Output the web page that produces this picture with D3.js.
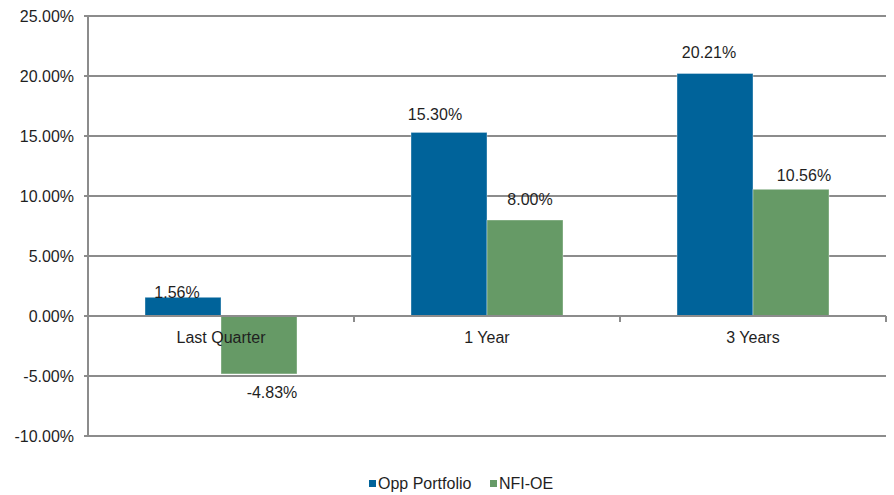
<!DOCTYPE html>
<html>
<head>
<meta charset="utf-8">
<script src="https://cdn.jsdelivr.net/npm/d3@7"></script>
<style>
  html, body { margin: 0; padding: 0; background: #fff; }
  svg { display: block; font-family: "Liberation Sans", Arial, sans-serif; }
</style>
</head>
<body>
<svg id="chart" width="894" height="495"></svg>
<script>
// Return periods and the two series (as fractions)
const categories = ["Last Quarter", "1 Year", "3 Years"];
const seriesNames = ["Opp Portfolio", "NFI-OE"];
const oppPortfolio = [0.0156, 0.1530, 0.2021];
const nfiOe = [-0.0483, 0.0800, 0.1056];
const yTicks = [-0.10, -0.05, 0, 0.05, 0.10, 0.15, 0.20, 0.25];

// Hand placement of the value labels: [dx, dy] relative to the bar end
const oppLabelNudge = [[-6, 1], [-14, -12], [-6, -15]];
const nfiLabelNudge = [[13, 24], [5, -15], [13, -8]];

const colors = ["#00639A", "#669A66"];
const gridColor = "#8c8c8c";
const textColor = "#1f1f1f";
const fontSize = 16;

const svg = d3.select("#chart");
const plotLeft = 88, plotRight = 886, plotTop = 16, plotBottom = 436;

const x = d3.scaleBand().domain(categories).range([plotLeft, plotRight]).paddingInner(0).paddingOuter(0);
const y = d3.scaleLinear().domain([-0.10, 0.25]).range([plotBottom, plotTop]);

// Percent format with a plain hyphen for negatives
const locale = d3.formatLocale({ decimal: ".", thousands: ",", grouping: [3], currency: ["$", ""], minus: "-" });
const fmt = locale.format(".2%");

const seriesData = [oppPortfolio, nfiOe];
const nudges = [oppLabelNudge, nfiLabelNudge];
// Bars take 1/(2 + 1.5 gap) of each category band
const barW = x.bandwidth() / 3.5;
const groupOffset = (x.bandwidth() - 2 * barW) / 2;

// Horizontal gridlines
svg.append("g").selectAll("line").data(yTicks.filter(d => d !== 0)).join("line")
  .attr("x1", plotLeft - 4).attr("x2", plotRight)
  .attr("y1", d => Math.round(y(d))).attr("y2", d => Math.round(y(d)))
  .attr("stroke", gridColor).attr("stroke-width", 2);

// Y axis labels
const yAxis = d3.axisLeft(y).tickValues(yTicks).tickFormat(fmt).tickSize(0).tickPadding(14);
const yg = svg.append("g").attr("transform", `translate(${plotLeft},0)`).call(yAxis);
yg.select(".domain").remove();
yg.selectAll("text").attr("font-size", fontSize).attr("fill", textColor)
  .attr("font-family", "'Liberation Sans', Arial, sans-serif");

// Bars
const bars = svg.append("g");
seriesData.forEach((vals, si) => {
  bars.selectAll(null).data(vals).join("rect")
    .attr("x", (d, i) => x(categories[i]) + groupOffset + si * barW)
    .attr("y", d => Math.min(y(d), y(0)))
    .attr("width", barW)
    .attr("height", d => Math.abs(y(d) - y(0)))
    .attr("fill", colors[si])
    .attr("stroke", "#ffffff").attr("stroke-opacity", 0.45).attr("stroke-width", 0.8);
});

// Zero line, y axis line and category tick marks
svg.append("line").attr("x1", plotLeft - 4).attr("x2", plotRight)
  .attr("y1", y(0)).attr("y2", y(0)).attr("stroke", gridColor).attr("stroke-width", 2);
svg.append("line").attr("x1", plotLeft).attr("x2", plotLeft)
  .attr("y1", plotTop).attr("y2", plotBottom).attr("stroke", gridColor).attr("stroke-width", 2);
const boundaries = categories.map(c => x(c)).concat([plotRight]).slice(1);
svg.append("g").selectAll("line").data(boundaries).join("line")
  .attr("x1", d => d).attr("x2", d => d)
  .attr("y1", y(0)).attr("y2", y(0) + 6)
  .attr("stroke", gridColor).attr("stroke-width", 2);

// Category labels
svg.append("g").selectAll("text").data(categories).join("text")
  .attr("x", d => x(d) + x.bandwidth() / 2)
  .attr("y", y(0) + 27)
  .attr("text-anchor", "middle")
  .attr("font-size", fontSize).attr("fill", textColor)
  .text(d => d);

// Value labels
seriesData.forEach((vals, si) => {
  svg.append("g").selectAll("text").data(vals).join("text")
    .attr("x", (d, i) => x(categories[i]) + groupOffset + si * barW + barW / 2 + nudges[si][i][0])
    .attr("y", (d, i) => y(d) + nudges[si][i][1])
    .attr("text-anchor", "middle")
    .attr("font-size", fontSize).attr("fill", textColor)
    .text(d => fmt(d));
});

// Legend
const legendItems = [{ name: seriesNames[0], x: 369 }, { name: seriesNames[1], x: 490 }];
const lg = svg.append("g");
legendItems.forEach((it, i) => {
  lg.append("rect").attr("x", it.x).attr("y", 480).attr("width", 7).attr("height", 7).attr("fill", colors[i]);
  lg.append("text").attr("x", it.x + 9).attr("y", 489)
    .attr("font-size", fontSize).attr("fill", textColor).text(it.name);
});
</script>
</body>
</html>
